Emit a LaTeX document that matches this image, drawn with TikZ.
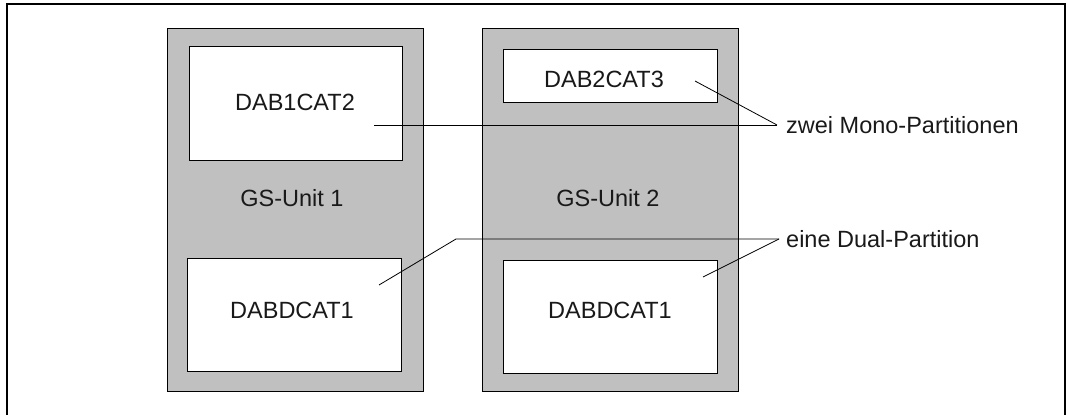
\documentclass[tikz,border=0pt]{standalone}
\usepackage{fontspec}
\setmainfont{Liberation Sans}
\definecolor{unitgray}{HTML}{C0C0C0}
\begin{document}
\begin{tikzpicture}[x=1pt,y=-1pt,
  unitbox/.style={draw=black,line width=1pt,fill=unitgray},
  partbox/.style={draw=black,line width=1pt,fill=white},
  txt/.style={font=\fontsize{23.5}{26}\selectfont,inner sep=0pt,text=black!90},
  callout/.style={draw=black,line width=0.8pt},
]
\useasboundingbox (0,0) rectangle (1068,415);
% outer frame (open at the bottom)
\draw[line width=1.2pt] (7,415) -- (7,4) -- (1065,4) -- (1065,415);
% units
\path[unitbox] (167,28) rectangle (423,391) node[pos=0.5,coordinate] (u1) {};
\path[unitbox] (482,28) rectangle (738,391) node[pos=0.5,coordinate] (u2) {};
% partitions
\path[partbox] (189,46) rectangle (402,160) node[pos=0.5,coordinate] (p1) {};
\path[partbox] (187,258) rectangle (401,371) node[pos=0.5,coordinate] (p2) {};
\path[partbox] (503,49) rectangle (717,102) node[pos=0.5,coordinate] (p3) {};
\path[partbox] (503,260) rectangle (717,373) node[pos=0.5,coordinate] (p4) {};
% texts
\node[txt] (t1) at (295,102) {DAB1CAT2};
\node[txt] (t2) at (292,310) {DABDCAT1};
\node[txt] (t3) at (604,79) {DAB2CAT3};
\node[txt] (t4) at (610,310) {DABDCAT1};
\node[txt] (g1) at (292,198) {GS-Unit 1};
\node[txt] (g2) at (608,198) {GS-Unit 2};
\node[txt,anchor=west] (mono) at (786,125) {zwei Mono-Partitionen};
\node[txt,anchor=west] (dual) at (786,239) {eine Dual-Partition};
% callout points
\coordinate (m1) at (374,125);
\coordinate (m2) at (695,81);
\coordinate (mj) at (777,125);
\coordinate (d1) at (379,285);
\coordinate (dk) at (456,239);
\coordinate (d2) at (703,277);
\coordinate (dj) at (779,239);
% connectors
\draw[callout] (m1) -- (mj);
\draw[callout] (m2) -- (mj);
\draw[callout] (d1) -- (dk) -- (dj);
\draw[callout] (d2) -- (dj);
\end{tikzpicture}
\end{document}
